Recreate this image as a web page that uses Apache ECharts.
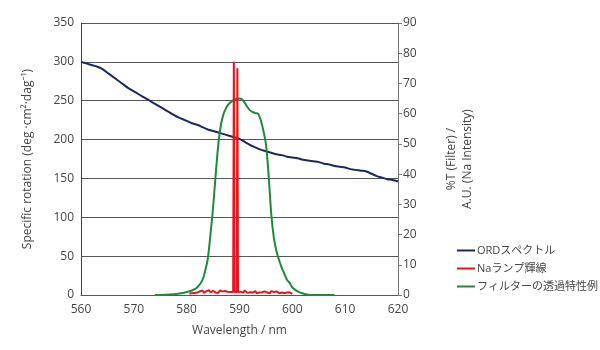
<!DOCTYPE html>
<html>
<head>
<meta charset="utf-8">
<script src="https://cdn.jsdelivr.net/npm/echarts@6.0.0/dist/echarts.min.js"></script>
<style>
  html, body { margin: 0; padding: 0; background: #fff; }
  #chart { width: 600px; height: 350px; }
</style>
</head>
<body>
<div id="chart"></div>
<script>
// ORD spectrum, 1 nm steps from 560 to 620 (left axis)
const ordStart = 560;
const ordVal = [
    300, 298, 296, 294, 291, 286, 281, 276, 271, 266,
    262, 258, 254, 250, 246, 242, 238, 234, 230, 227,
    224, 221, 219, 216, 213, 211, 209, 207, 205, 203,
    201, 197, 193, 190, 187, 185, 183, 181, 180, 178,
    177, 176, 174, 173, 172, 171, 169, 168, 166, 165,
    164, 162, 161, 160, 159, 156, 153, 151, 149, 148, 146
];

// filter transmission (right axis)
const filterWl = [
    574, 576, 578, 579, 580, 581, 582, 583, 583.5, 584, 584.5, 585, 585.5, 586, 586.5,
    587, 587.5, 588, 589, 590, 590.5, 591, 591.5, 592, 592.5, 593, 593.5, 594, 594.5,
    595, 595.5, 596, 596.5, 597, 597.5, 598, 598.5, 599, 599.5, 600, 601, 602, 603, 604, 608
];
const filterVal = [
    0, 0.1, 0.3, 0.6, 1, 1.5, 2.5, 5, 8, 12, 20, 29, 40, 50, 56.5,
    60, 62, 63.3, 64.6, 65, 64.7, 63.6, 62.2, 61.1, 60.5, 60.2, 60, 58, 54.5,
    50, 40, 27, 19, 14.5, 11.5, 9, 7, 5, 4, 2.5, 1.2, 0.5, 0.1, 0, 0
];

// Na lamp: background noise at 0.25 nm steps from 580.5, plus the D lines (right axis)
const naNoiseStart = 580.5;
const naNoise = [
    0.5, 0.9, 0.6, 1.1, 0.7, 1.3, 0.8, 0.6, 1.2, 1.0, 1.5, 0.7, 1.0, 1.3, 0.8, 1.6,
    0.9, 0.6, 1.4, 1.1, 0.8, 1.3, 0.7, 1.5, 1.0, 1.2, 0.8, 1.3, 0.9, 1.1, 0.7, 1.0,
    1.4, 0.8, 1.2, 1.0, 0.8, 1.3, 0.9, 1.1, 1.3, 0.8, 1.5, 1.0, 0.7, 1.2, 0.9, 1.3,
    0.8, 1.0, 1.3, 0.6, 1.1, 0.8, 1.4, 0.9, 0.7, 1.2, 1.0, 0.8, 1.1, 0.6, 1.3, 0.8,
    1.0, 0.7, 1.2, 0.9, 0.6, 1.1, 0.8, 1.0, 0.6, 1.0, 0.8, 0.7, 0.9, 0.6, 0.4
];
const naPeakWl = [588.8, 588.93, 589.06, 589.48, 589.6, 589.72];
const naPeakVal = [1.0, 77.2, 1.0, 1.0, 75, 1.0];

const navy = '#1b2a5e';
const red = '#e8141c';
const green = '#1e8a3c';
const textColor = '#444';
const fontFamily = '"Open Sans", "Noto Sans", "Noto Sans CJK JP", sans-serif';

const ordData = ordVal.map((v, i) => [ordStart + i, v]);
const filterData = filterWl.map((w, i) => [w, filterVal[i]]);

let naData = naNoise
    .map((v, i) => [naNoiseStart + i * 0.25, v])
    .filter(p => p[0] < 588.75 || p[0] > 589.75);
naPeakWl.forEach((w, i) => naData.push([w, naPeakVal[i]]));
naData.sort((a, b) => a[0] - b[0]);

const chart = echarts.init(document.getElementById('chart'), null, { renderer: 'canvas' });

chart.setOption({
    animation: false,
    textStyle: { fontFamily: fontFamily },
    grid: { left: 81, right: 202, top: 23, bottom: 55 },
    legend: {
        orient: 'vertical',
        left: 452,
        top: 240,
        itemWidth: 18,
        itemHeight: 2,
        itemGap: 7,
        icon: 'rect',
        textStyle: { fontSize: 11, color: textColor, fontFamily: fontFamily, padding: [0, 0, 0, -3] },
        data: ['ORDスペクトル', 'Naランプ輝線', 'フィルターの透過特性例']
    },
    xAxis: {
        type: 'value',
        min: 560,
        max: 620,
        interval: 10,
        name: 'Wavelength / nm',
        nameLocation: 'middle',
        nameGap: 30,
        nameTextStyle: { fontSize: 12, color: textColor },
        axisLine: { show: true, lineStyle: { color: '#555' } },
        axisTick: { show: false },
        axisLabel: { fontSize: 12, color: textColor, margin: 9 },
        splitLine: { show: false }
    },
    yAxis: [
        {
            type: 'value',
            min: 0,
            max: 350,
            interval: 50,
            name: 'Specific rotation (deg ·cm²·dag⁻¹)',
            nameLocation: 'middle',
            nameGap: 47,
            nameTextStyle: { fontSize: 12, color: textColor },
            axisLine: { show: true, lineStyle: { color: '#444' } },
            axisTick: { show: false },
            axisLabel: { fontSize: 12, color: textColor, margin: 7 },
            splitLine: { show: true, lineStyle: { color: '#555', width: 1 } }
        },
        {
            type: 'value',
            min: 0,
            max: 90,
            interval: 10,
            position: 'right',
            name: '%T (Filter) /\nA.U. (Na Intensity)',
            nameLocation: 'middle',
            nameGap: 46,
            nameRotate: 90,
            nameTextStyle: { fontSize: 12, color: textColor, lineHeight: 16 },
            axisLine: { show: true, lineStyle: { color: '#777' } },
            axisTick: { show: true, length: 4, lineStyle: { color: '#777' } },
            axisLabel: { fontSize: 12, color: textColor, margin: 5 },
            splitLine: { show: false }
        }
    ],
    series: [
        {
            name: 'ORDスペクトル',
            type: 'line',
            yAxisIndex: 0,
            data: ordData,
            showSymbol: false,
            smooth: 0.3,
            lineStyle: { color: navy, width: 2 },
            itemStyle: { color: navy },
            z: 2
        },
        {
            name: 'フィルターの透過特性例',
            type: 'line',
            yAxisIndex: 1,
            data: filterData,
            showSymbol: false,
            smooth: 0.3,
            lineStyle: { color: green, width: 2 },
            itemStyle: { color: green },
            z: 3
        },
        {
            name: 'Naランプ輝線',
            type: 'line',
            yAxisIndex: 1,
            data: naData,
            showSymbol: false,
            lineStyle: { color: red, width: 2 },
            itemStyle: { color: red },
            z: 4
        }
    ]
});
</script>
</body>
</html>
